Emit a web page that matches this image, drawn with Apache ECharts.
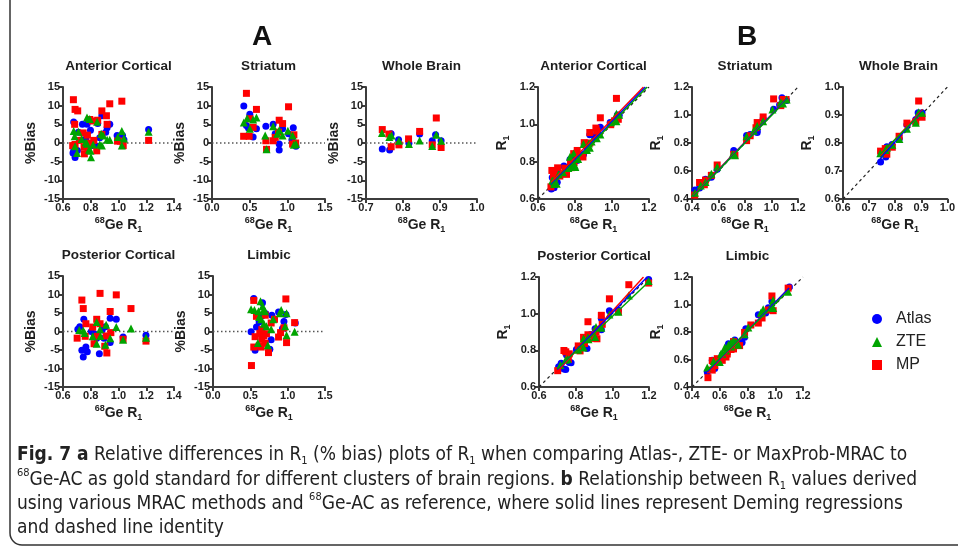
<!DOCTYPE html>
<html>
<head>
<meta charset="utf-8">
<script src="https://cdn.jsdelivr.net/npm/echarts@6/dist/echarts.min.js"></script>
<style>
  html, body { margin: 0; padding: 0; background: #fff; }
  #main { width: 958px; height: 551px; }
</style>
</head>
<body>
<div id="main"></div>
<script>
// axis ranges: [min, max, interval]
const xAnt = [0.6, 1.4, 0.2];
const xStr = [0, 1.5, 0.5];
const xWB = [0.7, 1.0, 0.1];
const xPost = [0.6, 1.4, 0.2];
const xLim = [0, 1.5, 0.5];
const yBias = [-15, 15, 5];
const rAnt = [0.6, 1.2, 0.2];
const rStr = [0.4, 1.2, 0.2];
const rWB = [0.6, 1.0, 0.1];
const rPost = [0.6, 1.2, 0.2];
const rLim = [0.4, 1.2, 0.2];

// A: % bias vs 68Ge R1
const biasAntAtlas = [[0.677,5.6],[0.74,5.0],[0.677,-2.1],[0.687,-3.9],[0.672,-2.7],[0.704,-2.0],[0.798,3.4],[0.773,5.0],[0.88,7.3],[0.85,5.2],[0.918,4.1],[0.908,2.9],[0.846,-0.9],[0.99,2.0],[1.029,2.0],[1.039,0.9],[1.217,3.6],[0.865,1.4],[0.764,1.1],[0.812,-0.7],[0.937,5.0],[0.711,2.9]];
const biasAntZTE = [[0.677,3.2],[0.711,3.0],[0.684,1.8],[0.773,6.8],[0.793,6.4],[0.846,5.7],[0.875,2.5],[0.89,2.0],[0.735,1.1],[0.773,-0.2],[0.788,-1.8],[0.802,-3.8],[0.798,-2.1],[0.817,-0.4],[0.865,-0.4],[0.88,-0.7],[0.918,0.9],[0.937,0.9],[1.024,3.2],[1.024,-0.7],[1.039,1.2],[1.217,3.0],[0.687,-0.9],[0.701,-2.7],[0.764,0.2],[0.995,1.6]];
const biasAntMP = [[0.675,11.6],[0.687,9.0],[0.706,8.6],[0.684,5.0],[0.793,6.3],[0.812,5.9],[0.85,6.1],[0.88,8.6],[0.913,7.3],[0.937,10.5],[1.024,11.2],[0.918,5.0],[0.745,2.7],[0.776,2.1],[0.718,0.7],[0.687,-0.4],[0.752,-1.1],[0.754,-2.9],[0.78,-1.5],[0.843,-2.1],[0.795,0.0],[0.822,0.7],[0.88,2.3],[0.993,0.5],[1.014,0.5],[1.034,-0.7],[1.217,0.7],[0.67,-0.7]];

const biasStrAtlas = [[0.422,9.9],[0.502,7.7],[0.457,4.7],[0.484,4.0],[0.546,1.6],[0.59,3.8],[0.715,4.5],[0.812,5.0],[0.839,2.5],[0.892,-0.3],[0.892,-1.9],[0.937,3.8],[1.016,2.5],[1.079,4.1],[1.061,0.9],[1.114,-0.9]];
const biasStrZTE = [[0.422,5.5],[0.466,6.6],[0.502,3.8],[0.546,6.3],[0.59,6.8],[0.706,2.0],[0.724,-1.7],[0.812,4.5],[0.866,2.5],[0.892,3.4],[0.937,2.0],[1.007,3.3],[1.07,2.0],[1.087,-0.5],[1.114,-0.3]];
const biasStrMP = [[0.457,13.3],[0.59,9.0],[0.502,6.5],[0.546,4.2],[0.42,1.8],[0.493,1.8],[0.715,0.6],[0.724,-1.7],[0.892,6.1],[0.937,5.2],[1.016,9.7],[0.883,2.9],[0.839,1.5],[0.812,0.6],[1.07,-0.3],[1.11,0.0],[1.087,2.2]];

const biasWBAtlas = [[0.744,-1.6],[0.764,-1.9],[0.768,2.5],[0.788,0.9],[0.816,-0.1],[0.845,2.4],[0.879,0.6],[0.888,2.2],[0.903,0.6]];
const biasWBZTE = [[0.743,2.7],[0.763,1.6],[0.769,2.0],[0.789,0.6],[0.816,-0.3],[0.845,0.7],[0.879,-0.8],[0.89,2.2],[0.903,0.6]];
const biasWBMP = [[0.744,3.6],[0.762,2.4],[0.768,-1.0],[0.789,-0.5],[0.815,1.1],[0.845,3.1],[0.879,-0.5],[0.89,6.7],[0.903,-1.2]];

const biasPostAtlas = [[0.707,0.6],[0.721,1.3],[0.75,3.3],[0.736,-5.1],[0.765,-4.2],[0.746,-6.9],[0.775,-5.5],[0.862,-6.0],[0.804,0.0],[0.824,-0.6],[0.843,-1.8],[0.882,0.4],[0.906,1.3],[0.94,3.6],[0.984,3.3],[0.94,-3.0],[1.033,-1.5],[0.896,-1.8],[1.198,-1.0]];
const biasPostZTE = [[0.717,0.4],[0.746,0.3],[0.756,-0.4],[0.814,-1.3],[0.843,2.6],[0.843,-3.3],[0.87,-1.2],[0.867,0.6],[0.911,1.8],[0.906,-3.6],[0.94,-1.8],[0.984,1.2],[1.033,-2.2],[1.09,0.8],[1.198,-1.7]];
const biasPostMP = [[0.736,8.5],[0.746,6.2],[0.765,2.1],[0.702,-1.8],[0.76,-1.3],[0.867,10.3],[0.984,9.9],[0.94,5.4],[1.09,6.2],[0.843,3.3],[0.867,2.1],[0.814,1.2],[0.824,-3.3],[0.848,-1.3],[0.901,-4.0],[0.916,-5.8],[0.911,-1.2],[0.945,-0.3],[1.033,-2.1],[1.198,-2.6]];

const biasLimAtlas = [[0.546,8.9],[0.564,-5.1],[0.51,-0.1],[0.582,1.2],[0.618,2.6],[0.654,4.2],[0.663,7.8],[0.708,4.8],[0.761,-4.8],[0.779,-2.2],[0.788,4.4],[0.878,5.3],[0.95,2.7],[0.976,4.6],[0.931,0.8],[1.102,2.3]];
const biasLimZTE = [[0.51,6.0],[0.555,5.8],[0.609,5.5],[0.636,8.2],[0.663,6.8],[0.681,6.0],[0.699,5.5],[0.618,3.9],[0.681,2.1],[0.716,1.4],[0.734,-3.7],[0.6,-3.1],[0.645,3.3],[0.806,3.3],[0.896,4.9],[0.913,5.8],[0.967,1.4],[0.985,4.9],[0.985,-1.0],[1.093,-0.1],[0.779,0.6]];
const biasLimMP = [[0.515,-9.2],[0.546,-4.2],[0.546,8.4],[0.582,4.1],[0.564,-1.4],[0.618,-3.9],[0.645,-4.2],[0.627,-0.5],[0.654,-2.1],[0.681,-1.2],[0.699,-3.2],[0.716,-0.6],[0.699,4.4],[0.743,-5.7],[0.779,2.3],[0.824,3.3],[0.878,-1.5],[0.905,-0.3],[0.976,8.8],[0.985,-3.0],[1.093,2.4],[0.654,0.5],[0.95,1.0]];

// B: MRAC R1 vs 68Ge R1
const r1AntAtlas = [[0.677,0.715],[0.74,0.777],[0.677,0.663],[0.687,0.66],[0.672,0.654],[0.704,0.69],[0.798,0.825],[0.773,0.812],[0.88,0.944],[0.85,0.894],[0.918,0.956],[0.908,0.934],[0.846,0.838],[0.99,1.01],[1.029,1.05],[1.039,1.048],[0.865,0.877],[0.764,0.772],[0.812,0.806],[0.937,0.984],[0.711,0.732]];
const r1AntZTE = [[0.677,0.699],[0.711,0.732],[0.684,0.696],[0.773,0.826],[0.793,0.844],[0.846,0.894],[0.875,0.897],[0.89,0.908],[0.735,0.743],[0.773,0.771],[0.788,0.774],[0.802,0.772],[0.798,0.781],[0.817,0.814],[0.865,0.862],[0.88,0.874],[0.918,0.926],[0.937,0.945],[1.024,1.057],[1.024,1.017],[1.039,1.051],[0.687,0.681],[0.701,0.682],[0.764,0.766],[0.995,1.011]];
const r1AntMP = [[0.675,0.753],[0.687,0.749],[0.706,0.767],[0.684,0.718],[0.793,0.843],[0.812,0.86],[0.85,0.902],[0.88,0.956],[0.913,0.98],[0.937,1.035],[1.024,1.139],[0.918,0.964],[0.745,0.765],[0.776,0.792],[0.718,0.723],[0.687,0.684],[0.752,0.744],[0.754,0.732],[0.78,0.768],[0.843,0.825],[0.795,0.795],[0.822,0.828],[0.88,0.9],[0.993,0.998],[1.014,1.019],[1.034,1.027],[0.67,0.665]];

const r1StrAtlas = [[0.422,0.464],[0.502,0.541],[0.457,0.478],[0.484,0.503],[0.546,0.555],[0.59,0.612],[0.715,0.747],[0.812,0.853],[0.839,0.86],[0.892,0.889],[0.892,0.875],[0.937,0.973],[1.016,1.041],[1.079,1.123],[1.061,1.071],[1.114,1.104]];
const r1StrZTE = [[0.422,0.445],[0.466,0.497],[0.502,0.521],[0.546,0.58],[0.59,0.63],[0.706,0.72],[0.724,0.712],[0.812,0.849],[0.866,0.888],[0.892,0.922],[0.937,0.956],[1.007,1.04],[1.07,1.091],[1.087,1.082],[1.114,1.111]];
const r1StrMP = [[0.457,0.518],[0.59,0.643],[0.502,0.535],[0.546,0.569],[0.42,0.428],[0.493,0.502],[0.715,0.719],[0.724,0.712],[0.892,0.946],[0.937,0.986],[1.016,1.115],[0.883,0.909],[0.839,0.852],[0.812,0.817],[1.07,1.067],[1.11,1.11],[1.087,1.111]];

const r1WBAtlas = [[0.744,0.732],[0.764,0.75],[0.768,0.787],[0.788,0.795],[0.816,0.815],[0.845,0.865],[0.879,0.884],[0.888,0.908],[0.903,0.908]];
const r1WBZTE = [[0.743,0.763],[0.763,0.775],[0.769,0.784],[0.789,0.794],[0.816,0.814],[0.845,0.851],[0.879,0.872],[0.89,0.91],[0.903,0.908]];
const r1WBMP = [[0.744,0.771],[0.762,0.78],[0.768,0.76],[0.789,0.785],[0.815,0.824],[0.845,0.871],[0.879,0.875],[0.89,0.95],[0.903,0.892]];

const r1PostAtlas = [[0.707,0.711],[0.721,0.73],[0.75,0.775],[0.736,0.698],[0.765,0.733],[0.746,0.695],[0.775,0.732],[0.862,0.81],[0.804,0.804],[0.824,0.819],[0.843,0.828],[0.882,0.886],[0.906,0.918],[0.94,0.974],[0.984,1.016],[0.94,0.912],[1.033,1.018],[0.896,0.88],[1.198,1.186]];
const r1PostZTE = [[0.717,0.72],[0.746,0.748],[0.756,0.753],[0.814,0.803],[0.843,0.865],[0.843,0.815],[0.87,0.86],[0.867,0.872],[0.911,0.927],[0.906,0.873],[0.94,0.923],[0.984,0.996],[1.033,1.01],[1.09,1.099],[1.198,1.178]];
const r1PostMP = [[0.736,0.799],[0.746,0.792],[0.765,0.781],[0.702,0.689],[0.76,0.75],[0.867,0.956],[0.984,1.081],[0.94,0.991],[1.09,1.158],[0.843,0.871],[0.867,0.885],[0.814,0.824],[0.824,0.797],[0.848,0.837],[0.901,0.865],[0.916,0.863],[0.911,0.9],[0.945,0.942],[1.033,1.011],[1.198,1.167]];

const r1LimAtlas = [[0.546,0.595],[0.564,0.535],[0.51,0.509],[0.582,0.589],[0.618,0.634],[0.654,0.681],[0.663,0.715],[0.708,0.742],[0.761,0.724],[0.779,0.762],[0.788,0.823],[0.878,0.925],[0.95,0.976],[0.976,1.021],[0.931,0.938],[1.102,1.127]];
const r1LimZTE = [[0.51,0.541],[0.555,0.587],[0.609,0.642],[0.636,0.688],[0.663,0.708],[0.681,0.722],[0.699,0.737],[0.618,0.642],[0.681,0.695],[0.716,0.726],[0.734,0.707],[0.6,0.581],[0.645,0.666],[0.806,0.833],[0.896,0.94],[0.913,0.966],[0.967,0.981],[0.985,1.033],[0.985,0.975],[1.093,1.092],[0.779,0.784]];
const r1LimMP = [[0.515,0.468],[0.546,0.523],[0.546,0.592],[0.582,0.606],[0.564,0.556],[0.618,0.594],[0.645,0.618],[0.627,0.624],[0.654,0.64],[0.681,0.673],[0.699,0.677],[0.716,0.712],[0.699,0.73],[0.743,0.701],[0.779,0.797],[0.824,0.851],[0.878,0.865],[0.905,0.902],[0.976,1.062],[0.985,0.955],[1.093,1.119],[0.654,0.657],[0.95,0.96]];

// Deming regression end points [start, end]
const fitAntAtlas = [[0.67,0.675],[1.18,1.2]];
const fitAntZTE = [[0.67,0.67],[1.19,1.2]];
const fitAntMP = [[0.67,0.69],[1.17,1.2]];
const fitStrAtlas = [[0.41,0.42],[1.12,1.12]];
const fitStrZTE = [[0.41,0.418],[1.12,1.115]];
const fitStrMP = [[0.41,0.425],[1.12,1.12]];
const fitWBAtlas = [[0.743,0.745],[0.905,0.915]];
const fitWBZTE = [[0.743,0.76],[0.905,0.912]];
const fitWBMP = [[0.743,0.755],[0.905,0.92]];
const fitPostAtlas = [[0.7,0.695],[1.19,1.2]];
const fitPostZTE = [[0.7,0.7],[1.2,1.175]];
const fitPostMP = [[0.7,0.685],[1.17,1.2]];
const fitLimAtlas = [[0.51,0.51],[1.1,1.12]];
const fitLimZTE = [[0.51,0.52],[1.1,1.105]];
const fitLimMP = [[0.51,0.5],[1.1,1.12]];

const FF = "'Liberation Sans', Arial, sans-serif";
const CAP = "'Liberation Sans Narrow', 'DejaVu Sans Condensed', 'Liberation Sans', sans-serif";
const INK = '#1e1e1e';
const AXC = '#3c3c3c';
const colors = { Atlas: '#0000ff', ZTE: '#00a400', MP: '#ff0000' };
const symbols = { Atlas: ['circle', 7], ZTE: ['triangle', 8], MP: ['rect', 7] };

const panels = [
  { box: [63, 87, 111, 112], title: 'Anterior Cortical', x: xAnt, y: yBias, kind: 'bias', d: { Atlas: biasAntAtlas, ZTE: biasAntZTE, MP: biasAntMP } },
  { box: [212, 87, 113, 112], title: 'Striatum', x: xStr, y: yBias, kind: 'bias', d: { Atlas: biasStrAtlas, ZTE: biasStrZTE, MP: biasStrMP } },
  { box: [366, 87, 111, 112], title: 'Whole Brain', x: xWB, y: yBias, kind: 'bias', d: { Atlas: biasWBAtlas, ZTE: biasWBZTE, MP: biasWBMP } },
  { box: [538, 87, 111, 112], title: 'Anterior Cortical', x: rAnt, y: rAnt, kind: 'r1', d: { Atlas: r1AntAtlas, ZTE: r1AntZTE, MP: r1AntMP }, fit: { Atlas: fitAntAtlas, ZTE: fitAntZTE, MP: fitAntMP } },
  { box: [692, 87, 106, 112], title: 'Striatum', x: rStr, y: rStr, kind: 'r1', d: { Atlas: r1StrAtlas, ZTE: r1StrZTE, MP: r1StrMP }, fit: { Atlas: fitStrAtlas, ZTE: fitStrZTE, MP: fitStrMP } },
  { box: [843, 87, 111, 112], title: 'Whole Brain', x: rWB, y: rWB, kind: 'r1', d: { Atlas: r1WBAtlas, ZTE: r1WBZTE, MP: r1WBMP }, fit: { Atlas: fitWBAtlas, ZTE: fitWBZTE, MP: fitWBMP } },
  { box: [63, 276, 111, 111], title: 'Posterior Cortical', x: xPost, y: yBias, kind: 'bias', d: { Atlas: biasPostAtlas, ZTE: biasPostZTE, MP: biasPostMP } },
  { box: [213, 276, 112, 111], title: 'Limbic', x: xLim, y: yBias, kind: 'bias', d: { Atlas: biasLimAtlas, ZTE: biasLimZTE, MP: biasLimMP } },
  { box: [539, 277, 110, 110], title: 'Posterior Cortical', x: rPost, y: rPost, kind: 'r1', d: { Atlas: r1PostAtlas, ZTE: r1PostZTE, MP: r1PostMP }, fit: { Atlas: fitPostAtlas, ZTE: fitPostZTE, MP: fitPostMP } },
  { box: [692, 277, 111, 110], title: 'Limbic', x: rLim, y: rLim, kind: 'r1', d: { Atlas: r1LimAtlas, ZTE: r1LimZTE, MP: r1LimMP }, fit: { Atlas: fitLimAtlas, ZTE: fitLimZTE, MP: fitLimMP } }
];

const nameRich = {
  m: { fontFamily: FF, fontWeight: 'bold', fontSize: 14, color: INK, lineHeight: 18 },
  sup: { fontFamily: FF, fontWeight: 'bold', fontSize: 9, color: INK, lineHeight: 10, verticalAlign: 'top' },
  sub: { fontFamily: FF, fontWeight: 'bold', fontSize: 9, color: INK, lineHeight: 9, verticalAlign: 'bottom' }
};

function makeAxis(i, r, isY, kind) {
  const name = isY ? (kind === 'bias' ? '{m|%Bias}' : '{m|R}{sub|1}') : '{sup|68}{m|Ge R}{sub|1}';
  return {
    type: 'value', gridIndex: i, min: r[0], max: r[1], interval: r[2],
    axisLine: { show: true, onZero: false, lineStyle: { color: AXC, width: 2 } },
    axisTick: { show: true, length: 4, lineStyle: { color: AXC, width: 2 } },
    splitLine: { show: false },
    axisLabel: {
      color: INK, fontFamily: FF, fontWeight: 'bold', fontSize: 11, margin: 3,
      formatter: v => (r[2] >= 1 ? String(Math.round(v)) : v.toFixed(1))
    },
    name: name, nameLocation: 'middle',
    nameGap: isY ? (kind === 'bias' ? 23 : 27) : 17,
    nameTextStyle: { rich: nameRich }
  };
}

const grid = [], xAxis = [], yAxis = [], series = [], graphic = [];
panels.forEach((p, i) => {
  grid.push({ left: p.box[0], top: p.box[1], width: p.box[2], height: p.box[3] });
  xAxis.push(makeAxis(i, p.x, false, p.kind));
  yAxis.push(makeAxis(i, p.y, true, p.kind));
  graphic.push({
    type: 'text', x: p.box[0] + p.box[2] / 2, y: p.box[1] - 21,
    style: { text: p.title, fontFamily: FF, fontWeight: 'bold', fontSize: 13.5, fill: INK, align: 'center', verticalAlign: 'middle' }
  });
  const ref = p.kind === 'bias'
    ? [[p.x[0], 0], [p.x[1], 0]]
    : [[p.y[0], p.y[0]], [p.y[1], p.y[1]]];
  series.push({
    type: 'line', xAxisIndex: i, yAxisIndex: i, data: ref, symbol: 'none', silent: true, z: 1,
    lineStyle: p.kind === 'bias' ? { color: '#555', width: 1.3, type: [1.5, 2.5] } : { color: '#222', width: 1.2, type: [3, 3] }
  });
  ['Atlas', 'MP', 'ZTE'].forEach(k => {
    series.push({
      name: k, type: 'scatter', xAxisIndex: i, yAxisIndex: i, data: p.d[k],
      symbol: symbols[k][0], symbolSize: symbols[k][1], itemStyle: { color: colors[k], opacity: 1 }, z: 3
    });
  });
  if (p.fit) {
    ['MP', 'Atlas', 'ZTE'].forEach(k => {
      series.push({
        type: 'line', xAxisIndex: i, yAxisIndex: i, data: p.fit[k], symbol: 'none', silent: true, z: 4,
        lineStyle: { color: colors[k], width: 1.4 }
      });
    });
  }
});

// panel letters
graphic.push({ type: 'text', x: 262, y: 37, style: { text: 'A', fontFamily: FF, fontWeight: 'bold', fontSize: 28, fill: '#111', align: 'center', verticalAlign: 'middle' } });
graphic.push({ type: 'text', x: 747, y: 37, style: { text: 'B', fontFamily: FF, fontWeight: 'bold', fontSize: 28, fill: '#111', align: 'center', verticalAlign: 'middle' } });

// frame
graphic.push({ type: 'rect', shape: { x: 10, y: -40, width: 1000, height: 585, r: 12 }, style: { fill: 'none', stroke: '#333', lineWidth: 1.5 }, silent: true });

// caption
const capRich = {
  b: { fontFamily: CAP, fontWeight: 'bold', fontSize: 19, fill: '#222', lineHeight: 24 },
  sub: { fontFamily: CAP, fontSize: 11, fill: '#222', lineHeight: 10, verticalAlign: 'bottom' },
  sup: { fontFamily: CAP, fontSize: 11, fill: '#222', lineHeight: 14, verticalAlign: 'top' }
};
const capLines = [
  '{b|Fig. 7 a} Relative differences in R{sub|1} (% bias) plots of R{sub|1} when comparing Atlas-, ZTE- or MaxProb-MRAC to',
  '{sup|68}Ge-AC as gold standard for different clusters of brain regions. {b|b} Relationship between R{sub|1} values derived',
  'using various MRAC methods and {sup|68}Ge-AC as reference, where solid lines represent Deming regressions',
  'and dashed line identity'
];
const capY = [455, 480, 504, 528];
capLines.forEach((t, j) => {
  graphic.push({
    type: 'text', x: 17, y: capY[j],
    style: { text: t, rich: capRich, fontFamily: CAP, fontSize: 19, fill: '#222', lineHeight: 24, align: 'left', verticalAlign: 'middle' }
  });
});

const chart = echarts.init(document.getElementById('main'));
chart.setOption({
  animation: false,
  backgroundColor: '#fff',
  grid, xAxis, yAxis, series, graphic,
  legend: {
    data: [{ name: 'Atlas', icon: 'circle' }, { name: 'ZTE', icon: 'triangle' }, { name: 'MP', icon: 'rect' }],
    orient: 'vertical', left: 867, top: 306, itemWidth: 10, itemHeight: 10, itemGap: 7,
    selectedMode: false,
    textStyle: { fontFamily: FF, fontSize: 16, color: '#222', padding: [0, 0, 0, 9] }
  }
});
</script>
</body>
</html>
